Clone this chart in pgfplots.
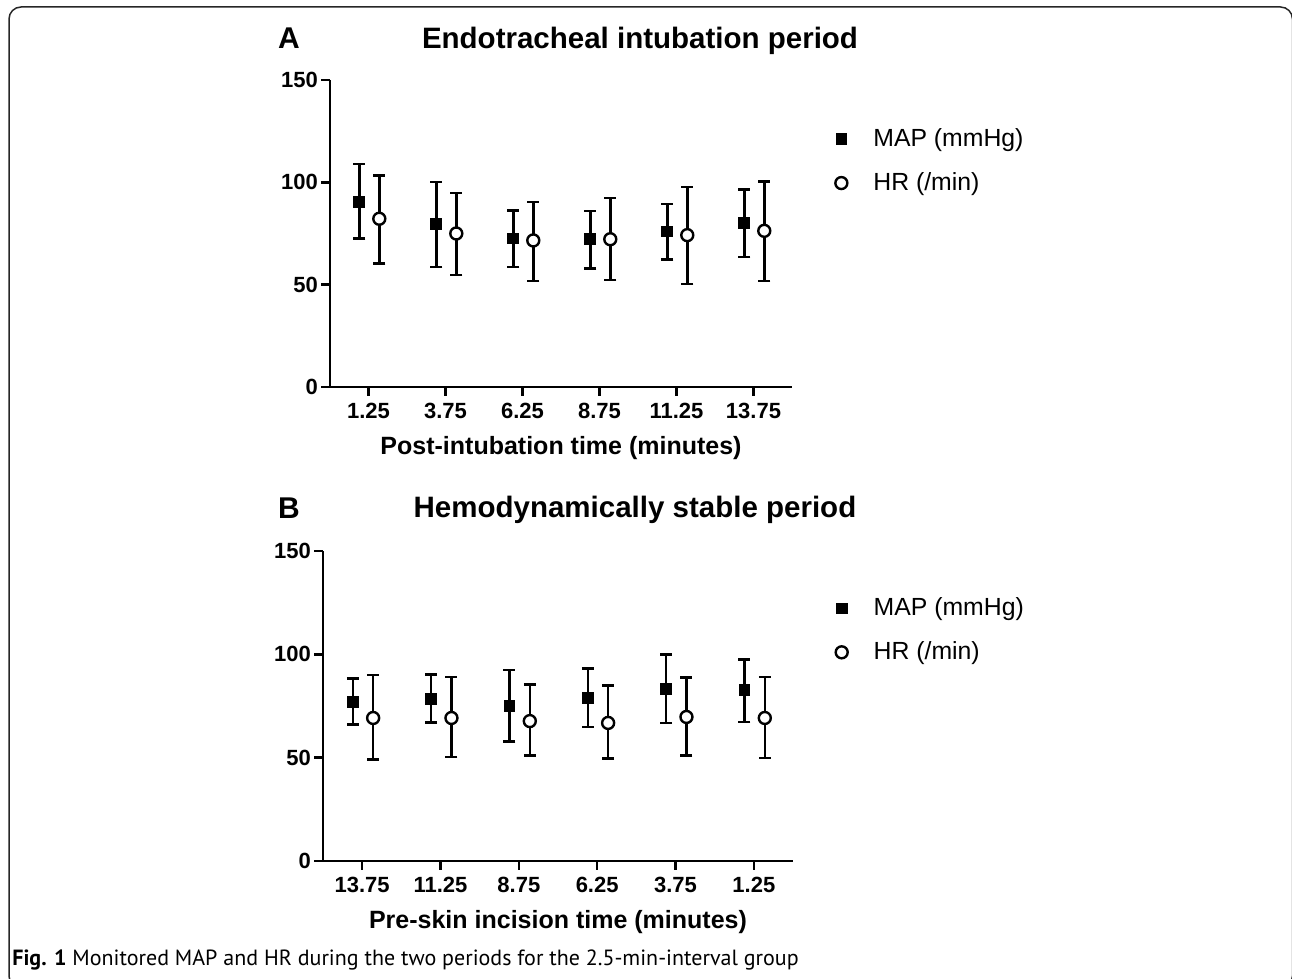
\documentclass[border=0pt]{standalone}
\usepackage{pgfplots}
\pgfplotsset{compat=1.18}
\usepackage{fontspec}
\setmainfont{Liberation Sans}
\newfontfamily\capfont{PT Sans}

\pgfplotsset{
  panel/.style={
    scale only axis,
    axis x line*=bottom, axis y line*=left,
    axis line style={line width=1.25pt},
    xmin=0.5, xmax=6.5, ymin=0, ymax=150,
    xtick={1,2,3,4,5,6}, ytick={0,50,100,150},
    tick align=outside, major tick length=4.5pt,
    tick style={line width=1.25pt, black},
    /pgf/number format/assume math mode=true,
    ticklabel style={font=\fontsize{11}{12}\selectfont\bfseries},
    yticklabel style={xshift=2pt},
    xlabel style={font=\fontsize{12.5}{14}\selectfont\bfseries, yshift=-2pt},
    legend style={draw=none, fill=none, font=\fontsize{12.4}{14}\selectfont,
      row sep=7.5pt, column sep=11pt, inner sep=0pt},
    legend cell align=left,
    clip=false,
  },
  mapplot/.style={only marks, mark=square*, mark size=2.7pt, black,
    mark options={fill=black, draw=black},
    error bars/.cd, y dir=both, y explicit,
    error bar style={line width=1.25pt, black},
    error mark options={rotate=90, mark size=3pt, line width=1.25pt, black}},
  hrplot/.style={only marks, mark=*, mark size=3pt, black,
    mark options={fill=white, draw=black, line width=1.2pt},
    error bars/.cd, y dir=both, y explicit,
    error bar style={line width=1.25pt, black},
    error mark options={rotate=90, mark size=3pt, line width=1.25pt, black}},
}

\begin{document}
\begin{tikzpicture}
\useasboundingbox (0,0) rectangle (646pt,489.5pt);
\draw[line width=0.75pt, rounded corners=6pt, black!85] (4.5pt,486pt) rectangle (646.25pt,-4.5pt);

% Panel A
\node[font=\fontsize{15}{17}\selectfont\bfseries] at (144.5pt,470.5pt) {A};
\node[font=\fontsize{14.75}{17}\selectfont\bfseries] at (320pt,469pt) {Endotracheal intubation period};
\begin{axis}[panel, at={(165pt,296pt)}, anchor=south west,
  width=231pt, height=153.5pt,
  xticklabels={1.25,3.75,6.25,8.75,11.25,13.75},
  xlabel={Post-intubation time (minutes)},
  legend style={at={(1.093,0.856)}, anchor=north west}]
\addplot[mapplot] coordinates {
  (0.88,90.5) +=(0,18.4) -=(0,17.9)
  (1.88,79.6) +=(0,20.5) -=(0,20.9)
  (2.88,72.6) +=(0,13.7) -=(0,13.9)
  (3.88,72.2) +=(0,13.7) -=(0,14.3)
  (4.88,76.0) +=(0,13.5) -=(0,13.6)
  (5.88,80.2) +=(0,16.3) -=(0,16.6)
};
\addlegendentry{MAP (mmHg)}
\addplot[hrplot] coordinates {
  (1.14,82.2) +=(0,21.2) -=(0,21.9)
  (2.14,75.0) +=(0,19.9) -=(0,20.4)
  (3.14,71.6) +=(0,18.9) -=(0,19.8)
  (4.14,72.2) +=(0,20.1) -=(0,20.0)
  (5.14,74.2) +=(0,23.5) -=(0,24.0)
  (6.14,76.3) +=(0,24.1) -=(0,24.5)
};
\addlegendentry{HR (/min)}
\end{axis}

% Panel B
\node[font=\fontsize{15}{17}\selectfont\bfseries] at (144.5pt,235.5pt) {B};
\node[font=\fontsize{14.75}{17}\selectfont\bfseries] at (317.5pt,234.5pt) {Hemodynamically stable period};
\begin{axis}[panel, at={(161.5pt,59pt)}, anchor=south west,
  width=235pt, height=155pt,
  xticklabels={13.75,11.25,8.75,6.25,3.75,1.25},
  xlabel={Pre-skin incision time (minutes)},
  legend style={at={(1.09,0.863)}, anchor=north west}]
\addplot[mapplot] coordinates {
  (0.88,76.9) +=(0,11.3) -=(0,10.9)
  (1.88,78.5) +=(0,11.8) -=(0,11.6)
  (2.88,75.0) +=(0,17.3) -=(0,17.1)
  (3.88,79.0) +=(0,14.1) -=(0,14.2)
  (4.88,83.4) +=(0,16.6) -=(0,16.6)
  (5.88,82.6) +=(0,15.0) -=(0,15.3)
};
\addlegendentry{MAP (mmHg)}
\addplot[hrplot] coordinates {
  (1.14,69.2) +=(0,20.8) -=(0,20.0)
  (2.14,69.2) +=(0,19.8) -=(0,18.9)
  (3.14,67.7) +=(0,17.6) -=(0,16.6)
  (4.14,66.8) +=(0,18.0) -=(0,17.3)
  (5.14,69.7) +=(0,19.0) -=(0,18.6)
  (6.14,69.2) +=(0,19.8) -=(0,19.4)
};
\addlegendentry{HR (/min)}
\end{axis}

\node[anchor=west, font=\capfont\fontsize{11}{13}\selectfont, inner sep=0pt] at (6pt,9.5pt)
  {\textbf{Fig. 1} Monitored MAP and HR during the two periods for the 2.5-min-interval group};
\end{tikzpicture}
\end{document}
